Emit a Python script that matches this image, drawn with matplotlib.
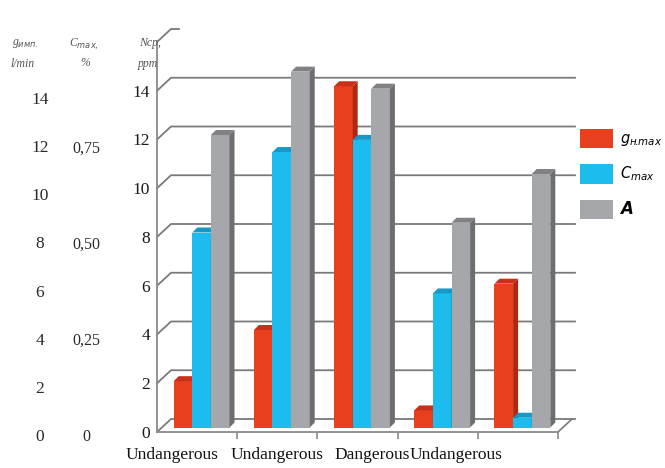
import matplotlib
matplotlib.use("Agg")
import matplotlib.pyplot as plt
import matplotlib.transforms as mtransforms
from matplotlib.patches import Patch

# data
categories = ["Undangerous", "Undangerous", "Dangerous", "Undangerous"]
g_max = [1.9, 4.0, 14.0, 0.7, 5.9]
c_max = [8.0, 11.3, 11.8, 5.5, 0.4]
a_vals = [12.0, 14.6, 13.9, 8.4, 10.4]
series_labels = [r"$g_{н\!.\!max}$", r"$C_{max}$", "A"]
ncp_ticks = [0, 2, 4, 6, 8, 10, 12, 14]
g_ticks = [0, 2, 4, 6, 8, 10, 12, 14]
c_ticks = [0, 0.25, 0.50, 0.75]
c_tick_labels = ["0", "0,25", "0,50", "0,75"]

front = ["#e8401f", "#1dbcee", "#a6a7ab"]
side = ["#b02812", "#1589b3", "#6d6e72"]
top = ["#c9301a", "#1798c6", "#808185"]
grid_c = "#7a7a7a"

plt.rcParams["mathtext.fontset"] = "dejavusans"

W, H = 665, 468
fig = plt.figure(figsize=(W / 100, H / 100), dpi=100)

# main axes: front floor from x=157 to 558 px, y=432 px, 16 units tall
ax = fig.add_axes([157 / W, (H - 432) / H, 401 / W, 390 / H])
ax.set_xlim(-0.5, 4.5)
ax.set_ylim(0, 16)
ux = 401 / 5.0
uy = 390 / 16.0
BX, BY = 14 / ux, 13 / uy      # back wall depth
OX, OY = 4.5 / ux, 4.5 / uy    # bar placement on the floor
DX, DY = 5 / ux, 5 / uy        # bar depth

# back wall gridlines with the little slanted joins
for v in range(0, 18, 2):
    end = 4.5 + BX + 3 / ux if v < 16 else -0.5 + BX + 8 / ux
    ax.plot([-0.5, -0.5 + BX, end], [v, v + BY, v + BY], color=grid_c,
            lw=1.3, clip_on=False, zorder=1)
ax.plot([4.5, 4.5 + BX], [0, BY], color=grid_c, lw=1.2, clip_on=False, zorder=1)

# bars with top and side faces
w = 0.232
for j, vals in enumerate([g_max, c_max, a_vals]):
    xs = [i - 1.5 * w + j * w + OX for i in range(len(vals))]
    ax.bar(xs, vals, width=w, bottom=OY, align="edge", color=front[j],
           zorder=3 + j)
    for x0, h in zip(xs, vals):
        t = OY + h
        ax.fill([x0, x0 + w, x0 + w + DX, x0 + DX], [t, t, t + DY, t + DY],
                color=top[j], zorder=3 + j, lw=0)
        ax.fill([x0 + w, x0 + w + DX, x0 + w + DX, x0 + w],
                [OY, OY + DY, t + DY, t], color=side[j], zorder=3 + j, lw=0)

for s in ["top", "right"]:
    ax.spines[s].set_visible(False)
for s in ["left", "bottom"]:
    ax.spines[s].set_color("#8a8a8a")
    ax.spines[s].set_linewidth(1.3)
ax.set_xticks([0.5, 1.5, 2.5, 3.5, 4.5])
ax.set_xticklabels([])
ax.tick_params(axis="x", length=5, color="#8a8a8a", width=1.2)
ax.set_yticks(ncp_ticks)
ax.set_yticklabels([str(t) for t in ncp_ticks], family="Liberation Serif",
                   fontsize=12.5, color="#1a1a1a")
ax.tick_params(axis="y", length=0, pad=5)
ax.patch.set_alpha(0)

# category labels under the floor
label_x = [172, 277, 372, 456]
for lx, lab in zip(label_x, categories):
    fig.text(lx / W, (H - 455) / H, lab, ha="center", va="center",
             family="Liberation Serif", fontsize=12.5, color="#111111")

# extra value columns on the left
ax_g = fig.add_axes([20 / W, (H - 437) / H, 40 / W, 337 / H])
ax_g.set_ylim(0, 14)
ax_g.axis("off")
for t in g_ticks:
    ax_g.text(0.5, t, str(t), transform=mtransforms.blended_transform_factory(
        ax_g.transAxes, ax_g.transData), ha="center", va="center",
        family="Liberation Serif", fontsize=12.5, color="#2a2a2a")

ax_c = fig.add_axes([66 / W, (H - 437) / H, 40 / W, 337 / H])
ax_c.set_ylim(0, 0.875)
ax_c.axis("off")
for t, lab in zip(c_ticks, c_tick_labels):
    ax_c.text(0.5, t, lab, transform=mtransforms.blended_transform_factory(
        ax_c.transAxes, ax_c.transData), ha="center", va="center",
        family="Liberation Serif", fontsize=11.5, color="#2a2a2a")

# column headers
hdr = dict(family="Liberation Serif", fontsize=8.5, color="#555555",
           style="italic", ha="center", va="center")
fig.text(25 / W, (H - 44) / H, r"g$_{имп.}$", **hdr)
fig.text(22 / W, (H - 64) / H, "l/min", **hdr)
fig.text(84 / W, (H - 44) / H, r"C$_{max,}$", **hdr)
fig.text(85 / W, (H - 63) / H, "%", **hdr)
fig.text(150 / W, (H - 43) / H, "Nср,", **hdr)
fig.text(148 / W, (H - 64) / H, "ppm", **hdr)

# legend on the right
handles = [Patch(facecolor=c, edgecolor="none") for c in front]
leg = fig.legend(handles, series_labels, loc="upper left",
                 bbox_to_anchor=(580 / W, (H - 129) / H), frameon=False,
                 fontsize=10.5, handlelength=2.25, handleheight=1.65,
                 handletextpad=0.5, labelspacing=1.1, borderpad=0,
                 borderaxespad=0)
leg.get_texts()[2].set_fontweight("bold")
leg.get_texts()[2].set_style("italic")
leg.get_texts()[2].set_fontsize(12)

fig.savefig("out.png", dpi=100)
